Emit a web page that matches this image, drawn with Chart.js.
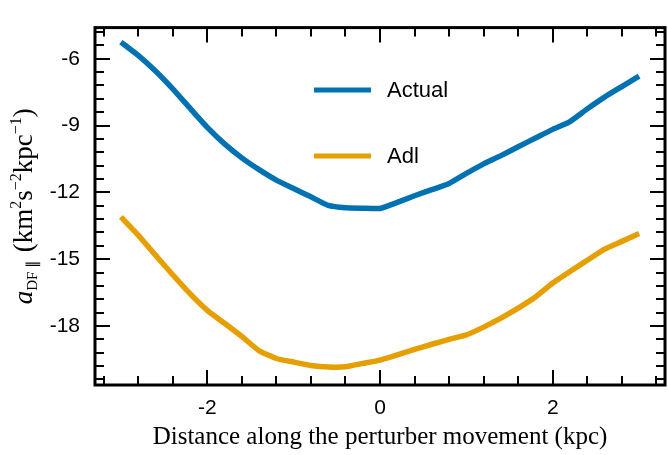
<!DOCTYPE html>
<html>
<head>
<meta charset="utf-8">
<script src="https://cdn.jsdelivr.net/npm/chart.js@4.4.1/dist/chart.umd.min.js"></script>
<style>
  html, body { margin: 0; padding: 0; background: #fff; }
  #wrap { width: 668px; height: 455px; }
</style>
</head>
<body>
<div id="wrap"><canvas id="chart" width="668" height="455"></canvas></div>
<script>
// values
const distance = [-3.0, -2.8, -2.6, -2.4, -2.2, -2.0, -1.8, -1.6, -1.4, -1.2, -1.0, -0.8, -0.6, -0.4, -0.2, 0.0,
  0.2, 0.4, 0.6, 0.8, 1.0, 1.2, 1.4, 1.6, 1.8, 2.0, 2.2, 2.4, 2.6, 2.8, 3.0];
const actual = [-5.25, -5.85, -6.55, -7.35, -8.22, -9.08, -9.82, -10.45, -10.98, -11.45, -11.83, -12.2, -12.58, -12.69, -12.71, -12.72,
  -12.45, -12.15, -11.88, -11.6, -11.15, -10.72, -10.35, -9.95, -9.56, -9.17, -8.82, -8.25, -7.72, -7.25, -6.78];
const adl = [-13.1, -13.92, -14.82, -15.7, -16.55, -17.3, -17.88, -18.47, -19.11, -19.46, -19.62, -19.77, -19.84, -19.83, -19.68, -19.53,
  -19.3, -19.05, -18.82, -18.6, -18.4, -18.05, -17.65, -17.2, -16.7, -16.07, -15.55, -15.05, -14.55, -14.2, -13.85];

const seriesLabels = ["Actual", "Adl"];
const seriesColors = ["#0072b2", "#e69f00"];

const xMajorTicks = [-2, 0, 2];
const xMinorTicks = [-3.2, -2.8, -2.4, -1.6, -1.2, -0.8, -0.4, 0.4, 0.8, 1.2, 1.6, 2.4, 2.8, 3.2];
const yMajorTicks = [-18, -15, -12, -9, -6];
const yMinorTicks = [-20.4, -19.8, -19.2, -18.6, -17.4, -16.8, -16.2, -15.6, -14.4, -13.8, -13.2, -12.6,
  -11.4, -10.8, -10.2, -9.6, -8.4, -7.8, -7.2, -6.6, -5.4, -4.8];

const xTitle = "Distance along the perturber movement (kpc)";
const yTitleParts = [
  { text: "a", size: 27, style: "italic", shift: 0 },
  { text: "DF", size: 15, style: "", shift: 5 },
  { text: " \u2225  ", size: 15, style: "", shift: 5 },
  { text: "(km", size: 27, style: "", shift: 0 },
  { text: "2", size: 16, style: "", shift: -11 },
  { text: "s", size: 27, style: "", shift: 0 },
  { text: "\u22122", size: 16, style: "", shift: -11 },
  { text: "kpc", size: 27, style: "", shift: 0 },
  { text: "\u22121", size: 16, style: "", shift: -11 },
  { text: ")", size: 27, style: "", shift: 0 }
];

const SANS = "'Liberation Sans', Arial, sans-serif";
const SERIF = "'Liberation Serif', 'Times New Roman', serif";

const frameTicks = {
  id: "frameTicks",
  afterDatasetsDraw(chart) {
    const { ctx, chartArea: a, scales } = chart;
    ctx.save();
    ctx.strokeStyle = "#000";
    ctx.lineWidth = 2;
    ctx.beginPath();
    const tickX = (values, len) => values.forEach((v) => {
      const px = Math.round(scales.x.getPixelForValue(v));
      ctx.moveTo(px, a.bottom); ctx.lineTo(px, a.bottom - len);
      ctx.moveTo(px, a.top); ctx.lineTo(px, a.top + len);
    });
    const tickY = (values, len) => values.forEach((v) => {
      const py = Math.round(scales.y.getPixelForValue(v));
      ctx.moveTo(a.left, py); ctx.lineTo(a.left + len, py);
      ctx.moveTo(a.right, py); ctx.lineTo(a.right - len, py);
    });
    tickX(xMajorTicks, 15);
    tickX(xMinorTicks, 9);
    tickY(yMajorTicks, 15);
    tickY(yMinorTicks, 9);
    ctx.stroke();

    ctx.lineWidth = 3;
    ctx.strokeRect(a.left, a.top, a.right - a.left, a.bottom - a.top);

    // legend inside the plot
    const rows = [90, 156];
    seriesLabels.forEach((label, i) => {
      ctx.strokeStyle = seriesColors[i];
      ctx.lineWidth = 5;
      ctx.beginPath();
      ctx.moveTo(314, rows[i]);
      ctx.lineTo(371, rows[i]);
      ctx.stroke();
      ctx.fillStyle = "#000";
      ctx.font = `22px ${SANS}`;
      ctx.textBaseline = "middle";
      ctx.textAlign = "left";
      ctx.fillText(label, 387, rows[i] + 1);
    });
    ctx.restore();
  }
};

const yTitle = {
  id: "yTitle",
  afterDraw(chart) {
    const { ctx, chartArea: a } = chart;
    ctx.save();
    const fontOf = (p) => `${p.style} ${p.size}px ${SERIF}`.trim();
    let total = 0;
    yTitleParts.forEach((p) => {
      ctx.font = fontOf(p);
      p.w = ctx.measureText(p.text).width;
      total += p.w;
    });
    ctx.translate(24, (a.top + a.bottom) / 2);
    ctx.rotate(-Math.PI / 2);
    ctx.fillStyle = "#000";
    ctx.textBaseline = "alphabetic";
    ctx.textAlign = "left";
    let x = -total / 2;
    yTitleParts.forEach((p) => {
      ctx.font = fontOf(p);
      ctx.fillText(p.text, x, 8 + p.shift);
      x += p.w;
    });
    ctx.restore();
  }
};

new Chart(document.getElementById("chart"), {
  type: "line",
  data: {
    datasets: [actual, adl].map((values, i) => ({
      label: seriesLabels[i],
      data: distance.map((x, j) => ({ x, y: values[j] })),
      borderColor: seriesColors[i],
      backgroundColor: seriesColors[i],
      borderWidth: 5.5,
      pointRadius: 0,
      tension: 0.15,
      fill: false
    }))
  },
  options: {
    responsive: false,
    animation: false,
    devicePixelRatio: 1,
    layout: { padding: { top: 11, right: 3, left: 0, bottom: 0 } },
    plugins: { legend: { display: false }, tooltip: { enabled: false } },
    scales: {
      x: {
        type: "linear",
        min: -3.3,
        max: 3.3,
        grid: { display: false, drawTicks: false },
        border: { display: false },
        ticks: { color: "#000", font: { family: SANS, size: 21 }, padding: 11 },
        afterBuildTicks(scale) { scale.ticks = xMajorTicks.map((value) => ({ value })); },
        afterFit(scale) { scale.height = 70; },
        title: {
          display: true,
          text: xTitle,
          color: "#000",
          font: { family: SERIF, size: 25 },
          padding: { top: 0, bottom: 3 }
        }
      },
      y: {
        type: "linear",
        min: -20.65,
        max: -4.6,
        grid: { display: false, drawTicks: false },
        border: { display: false },
        ticks: { color: "#000", font: { family: SANS, size: 21 }, padding: 15 },
        afterBuildTicks(scale) { scale.ticks = yMajorTicks.map((value) => ({ value })); },
        afterFit(scale) { scale.width = 95; }
      }
    }
  },
  plugins: [frameTicks, yTitle]
});
</script>
</body>
</html>
